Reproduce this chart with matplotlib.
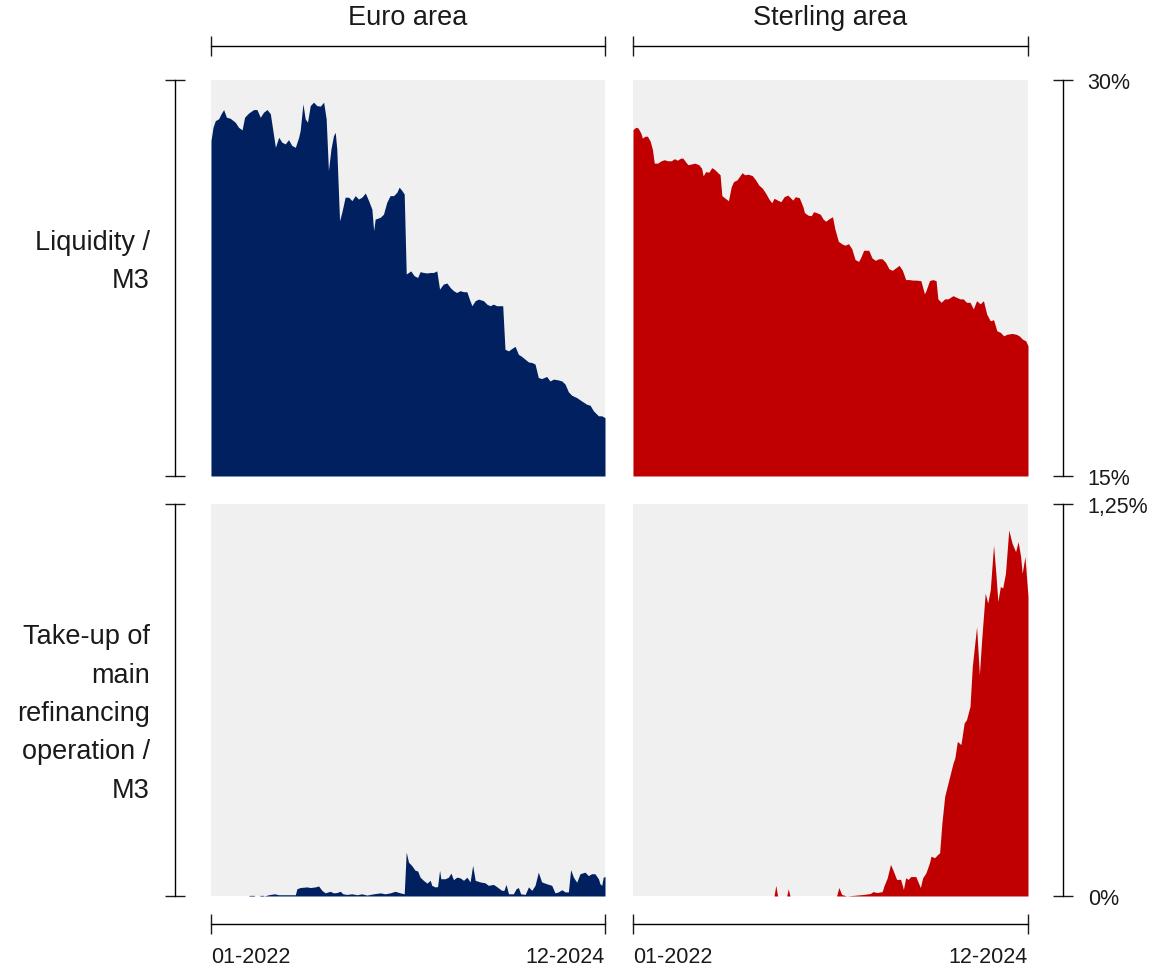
import matplotlib
matplotlib.use('Agg')
import matplotlib.pyplot as plt
import numpy as np

plt.rcParams['font.family'] = ['Liberation Sans', 'DejaVu Sans']

# ---------------- data (weeks since 01-2022, values in %) ----------------
eu_liq_wk = [0.0, 0.8, 1.7, 3.0, 4.0, 5.0, 6.1, 7.6, 9.6, 10.9, 12.3, 13.3, 14.9, 16.9, 18.2,
             19.5, 20.8, 22.2, 23.5, 24.8, 25.5, 26.8, 28.1, 29.4, 30.7, 32.0, 33.4, 34.7, 35.3,
             36.4, 37.3, 38.2, 39.3, 40.6, 41.9, 43.3, 44.6, 45.6, 46.5, 47.5, 48.5, 49.2, 49.8,
             50.9, 51.8, 53.1, 54.5, 55.8, 57.1, 58.4, 59.7, 61.1, 62.4, 63.7, 64.4, 65.0, 67.0,
             68.3, 69.6, 70.9, 72.3, 73.6, 74.5, 75.6, 76.5, 77.3, 78.2, 79.1, 80.4, 81.8, 82.8,
             84.1, 85.5, 86.8, 88.1, 89.4, 90.5, 92.0, 93.4, 94.7, 96.0, 97.3, 98.6, 100.0, 101.3,
             102.3, 103.3, 104.6, 105.9, 107.9, 109.2, 110.5, 111.8, 113.1, 114.5, 115.5, 116.4,
             117.8, 119.1, 120.4, 121.7, 123.0, 124.4, 125.7, 127.0, 128.3, 129.6, 130.9, 132.9,
             134.2, 135.6, 137.5, 138.9, 140.2, 141.5, 142.8, 144.8, 146.8, 148.7, 150.1, 151.4,
             153.4, 154.7, 156.0]
eu_liq = [27.71, 28.21, 28.46, 28.53, 28.72, 28.88, 28.59, 28.55, 28.40, 28.21, 28.11, 28.59, 28.75,
          28.88, 28.88, 28.59, 28.78, 28.88, 28.72, 27.89, 27.45, 27.83, 27.64, 27.58, 27.74, 27.52,
          27.45, 27.83, 28.08, 29.10, 28.53, 28.40, 29.03, 29.16, 29.03, 29.01, 29.16, 28.53, 26.57,
          27.39, 27.89, 28.02, 27.39, 24.67, 24.99, 25.56, 25.56, 25.43, 25.62, 25.49, 25.56, 25.72,
          25.43, 25.11, 24.29, 24.73, 24.80, 24.92, 25.37, 25.62, 25.62, 25.75, 25.94, 25.81, 25.68,
          22.65, 22.71, 22.77, 22.59, 22.52, 22.74, 22.71, 22.69, 22.71, 22.71, 22.77, 22.08, 22.27,
          22.31, 22.14, 22.02, 21.95, 22.02, 21.98, 21.98, 21.70, 21.45, 21.64, 21.70, 21.64, 21.51,
          21.45, 21.51, 21.45, 21.45, 21.45, 19.80, 19.74, 19.83, 19.91, 19.61, 19.53, 19.42, 19.32,
          19.30, 19.24, 18.73, 18.69, 18.77, 18.60, 18.67, 18.64, 18.60, 18.48, 18.19, 18.06, 17.97,
          17.84, 17.72, 17.68, 17.47, 17.28, 17.28, 17.21]

uk_liq_wk = [0.0, 1.1, 2.0, 3.1, 3.7, 4.7, 5.7, 6.8, 7.7, 8.4, 9.7, 11.1, 12.4, 13.7, 15.1, 16.4,
             17.5, 18.8, 19.7, 20.7, 21.7, 23.1, 24.4, 26.0, 27.1, 27.7, 28.7, 30.0, 31.1, 32.1,
             33.7, 34.4, 35.1, 36.4, 37.7, 38.8, 39.7, 41.1, 42.0, 43.1, 44.1, 45.5, 47.1, 48.4,
             49.7, 51.1, 52.4, 53.7, 54.8, 55.7, 57.1, 58.4, 59.7, 61.1, 62.4, 63.1, 64.1, 65.7,
             67.1, 67.7, 69.1, 70.4, 71.3, 72.4, 74.0, 75.1, 76.1, 77.5, 78.8, 79.7, 81.1, 82.4,
             83.7, 85.1, 86.4, 87.7, 89.1, 90.0, 91.1, 93.1, 94.4, 95.7, 97.1, 98.4, 99.7, 101.1,
             102.4, 103.7, 105.1, 106.4, 107.7, 109.1, 110.4, 111.7, 113.7, 115.1, 115.7, 117.1,
             118.4, 119.7, 120.4, 121.7, 123.1, 124.4, 126.4, 127.7, 129.1, 130.4, 131.7, 133.1,
             134.4, 135.7, 137.1, 138.4, 139.7, 141.1, 142.4, 143.7, 145.1, 146.4, 147.7, 149.7,
             151.3, 152.5, 153.9, 155.1, 156.0]
uk_liq = [28.12, 28.21, 28.18, 27.99, 27.80, 27.87, 27.87, 27.68, 27.36, 26.85, 26.85, 26.94, 26.98,
          26.94, 26.94, 27.02, 26.96, 27.04, 27.04, 26.91, 26.79, 26.82, 26.85, 26.79, 26.66, 26.37,
          26.53, 26.51, 26.68, 26.62, 26.47, 26.41, 25.62, 25.52, 25.43, 25.96, 26.15, 26.22, 26.34,
          26.49, 26.41, 26.43, 26.38, 26.22, 26.02, 25.90, 25.71, 25.49, 25.35, 25.52, 25.45, 25.39,
          25.58, 25.64, 25.52, 25.45, 25.58, 25.54, 25.20, 24.98, 24.88, 24.86, 25.01, 24.98, 24.91,
          24.73, 24.65, 24.75, 24.82, 24.37, 23.89, 23.80, 23.74, 23.80, 23.61, 23.20, 23.13, 23.29,
          23.55, 23.55, 23.26, 23.17, 23.23, 23.23, 23.10, 22.85, 22.79, 22.88, 22.98, 22.79, 22.44,
          22.44, 22.42, 22.42, 22.40, 21.90, 22.02, 22.40, 22.44, 22.40, 21.71, 21.58, 21.71, 21.71,
          21.83, 21.77, 21.71, 21.71, 21.58, 21.58, 21.33, 21.64, 21.52, 21.64, 21.13, 20.88, 20.92,
          20.50, 20.44, 20.31, 20.37, 20.40, 20.37, 20.31, 20.18, 20.12, 19.93]

eu_mro_wk = [0.0, 14.9, 15.3, 17.1, 17.3, 19.3, 19.4, 20.8, 21.0, 22.8, 25.1, 26.8, 33.4, 34.0,
             35.3, 38.0, 39.3, 41.3, 42.6, 43.9, 45.2, 47.2, 48.5, 49.8, 51.2, 52.2, 53.8, 55.8,
             57.8, 59.7, 61.7, 64.4, 67.0, 69.0, 70.9, 72.9, 74.9, 76.5, 77.3, 78.2, 79.5, 80.8,
             81.8, 82.8, 84.1, 85.5, 86.8, 87.4, 88.7, 89.7, 90.5, 91.0, 92.7, 94.0, 95.0, 96.0,
             97.3, 98.6, 100.0, 101.3, 102.6, 103.6, 104.6, 106.5, 108.5, 109.8, 111.8, 113.1,
             115.1, 116.0, 116.8, 117.8, 119.7, 120.8, 121.7, 122.6, 124.4, 125.7, 127.0, 128.3,
             129.6, 130.9, 132.9, 134.9, 136.2, 137.5, 138.9, 140.2, 141.5, 142.4, 143.5, 144.8,
             146.1, 148.1, 149.4, 150.7, 152.0, 153.4, 154.0, 154.7, 155.3, 156.0]
eu_mro = [0.0, 0.0, 0.002, 0.002, 0.0, 0.0, 0.002, 0.002, 0.0, 0.004, 0.007, 0.004, 0.004, 0.023,
          0.027, 0.029, 0.027, 0.029, 0.032, 0.018, 0.010, 0.015, 0.010, 0.011, 0.015, 0.007, 0.005,
          0.007, 0.004, 0.007, 0.003, 0.007, 0.010, 0.007, 0.010, 0.015, 0.010, 0.007, 0.140, 0.108,
          0.097, 0.082, 0.080, 0.060, 0.050, 0.041, 0.050, 0.034, 0.029, 0.030, 0.082, 0.055, 0.055,
          0.060, 0.073, 0.052, 0.060, 0.058, 0.050, 0.060, 0.045, 0.098, 0.050, 0.045, 0.042, 0.034,
          0.037, 0.030, 0.018, 0.018, 0.037, 0.007, 0.007, 0.023, 0.027, 0.007, 0.005, 0.029, 0.018,
          0.034, 0.076, 0.045, 0.039, 0.034, 0.010, 0.013, 0.020, 0.013, 0.013, 0.084, 0.060, 0.044,
          0.071, 0.076, 0.065, 0.071, 0.071, 0.055, 0.039, 0.034, 0.060, 0.062]

uk_mro_wk = [0.0, 55.7, 56.4, 57.1, 60.7, 61.3, 62.0, 80.4, 81.3, 82.4, 84.4, 91.1, 93.7, 94.8,
             96.4, 98.4, 99.1, 100.4, 101.7, 102.8, 104.1, 105.7, 106.8, 107.7, 108.7, 109.7,
             111.7, 112.4, 113.5, 114.4, 115.7, 117.1, 117.7, 119.1, 120.4, 121.1, 122.0, 123.1,
             124.1, 125.1, 126.4, 127.1, 128.1, 129.5, 130.8, 131.7, 133.1, 134.0, 135.7, 136.8,
             137.7, 139.1, 140.1, 141.1, 142.4, 143.3, 144.1, 145.1, 146.0, 147.1, 148.4, 149.7,
             151.1, 152.1, 153.1, 153.7, 154.8, 156.0]
uk_mro = [0.0, 0.0, 0.034, 0.0, 0.0, 0.023, 0.0, 0.0, 0.027, 0.005, 0.0, 0.005, 0.008, 0.014, 0.011,
          0.014, 0.032, 0.058, 0.101, 0.080, 0.053, 0.053, 0.021, 0.058, 0.053, 0.062, 0.062, 0.048,
          0.027, 0.058, 0.074, 0.106, 0.127, 0.122, 0.133, 0.138, 0.233, 0.318, 0.350, 0.382, 0.424,
          0.440, 0.493, 0.483, 0.552, 0.562, 0.605, 0.732, 0.859, 0.706, 0.817, 0.966, 0.934, 0.976,
          1.119, 1.029, 0.939, 0.987, 0.982, 1.029, 1.167, 1.125, 1.098, 1.130, 1.082, 1.029, 1.082,
          0.955]

col_titles = ['Euro area', 'Sterling area']
row_labels = ['Liquidity /\nM3', 'Take-up of\nmain\nrefinancing\noperation /\nM3']
x_ticks = [0, 156]
x_labels = ['01-2022', '12-2024']
y_lims = [(15, 30), (0, 1.25)]
y_labels = [['15%', '30%'], ['0%', '1,25%']]

navy = '#002060'
red = '#c00000'
bg = '#f0f0f0'
ink = '#1a1a1a'

# ---------------- figure ----------------
fig = plt.figure(figsize=(11.5, 9.7), dpi=100)
W, H = 1150, 970
boxes = [[(211, 81, 605, 477), (633, 81, 1028, 477)],
         [(211, 505, 605, 897), (633, 505, 1028, 897)]]
series = [[(eu_liq_wk, eu_liq, navy), (uk_liq_wk, uk_liq, red)],
          [(eu_mro_wk, eu_mro, navy), (uk_mro_wk, uk_mro, red)]]

for r in range(2):
    for c in range(2):
        x0, y0, x1, y1 = boxes[r][c]
        ax = fig.add_axes([x0 / W, 1 - y1 / H, (x1 - x0) / W, (y1 - y0) / H])
        ax.set_facecolor(bg)
        wk, val, colr = series[r][c]
        lo = y_lims[r][0]
        ax.fill_between(wk, lo, val, color=colr, lw=0)
        ax.set_xlim(0, 156)
        ax.set_ylim(*y_lims[r])
        for s in ax.spines.values():
            s.set_visible(False)
        ax.tick_params(which='both', left=False, bottom=False, labelleft=False,
                       labelbottom=False, colors=ink)
        ax.set_xticks(x_ticks)
        ax.set_yticks(list(y_lims[r]))

        # column bracket + title on top row
        if r == 0:
            sp = ax.spines['top']
            sp.set_visible(True)
            sp.set_position(('outward', 24.5))
            sp.set_linewidth(1.0)
            ax.tick_params(axis='x', top=True, direction='inout', length=14, width=1.0)
            ax.text(0.5, (y1 - 18) / (y1 - y0), col_titles[c], transform=ax.transAxes,
                    ha='center', va='center', fontsize=19.5, color=ink)
        # time bracket on bottom row
        if r == 1:
            sp = ax.spines['bottom']
            sp.set_visible(True)
            sp.set_position(('outward', 20))
            sp.set_linewidth(1.0)
            ax.set_xticklabels(x_labels)
            ax.tick_params(axis='x', bottom=True, labelbottom=True, direction='inout',
                           length=14, width=1.0, labelsize=15.5, pad=9)
            tl = ax.get_xticklabels()
            tl[0].set_ha('left')
            tl[1].set_ha('right')
        # row bracket + label on left column
        if c == 0:
            sp = ax.spines['left']
            sp.set_visible(True)
            sp.set_position(('outward', 26))
            sp.set_linewidth(1.0)
            ax.tick_params(axis='y', left=True, direction='inout', length=14, width=1.0)
            ymid = 0.543 if r == 0 else 0.467
            ax.text(-0.155, ymid, row_labels[r], transform=ax.transAxes, ha='right',
                    va='center', multialignment='right', fontsize=19.5, color=ink,
                    linespacing=1.62)
        # value bracket on right column
        if c == 1:
            sp = ax.spines['right']
            sp.set_visible(True)
            sp.set_position(('outward', 25))
            sp.set_linewidth(1.0)
            ax.set_yticklabels(y_labels[r])
            ax.tick_params(axis='y', right=True, labelright=True, direction='inout',
                           length=14, width=1.0, labelsize=15.5, pad=11)

fig.savefig('out.png', dpi=100)
